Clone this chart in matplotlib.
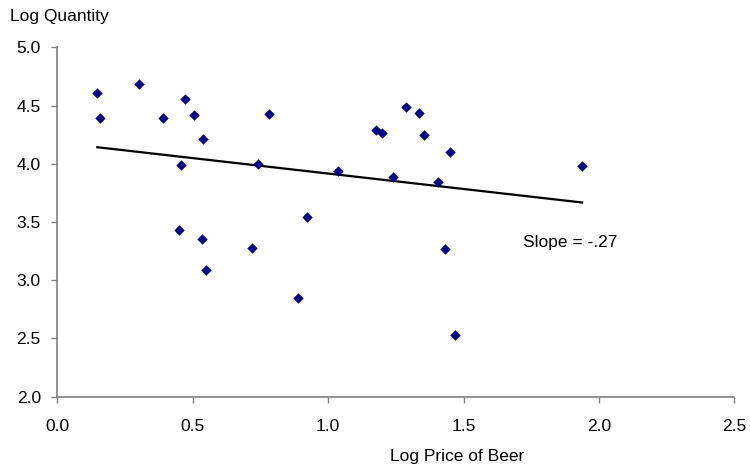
import matplotlib
matplotlib.use("Agg")
import matplotlib.pyplot as plt
import numpy as np

plt.rcParams["font.family"] = ["Liberation Sans", "DejaVu Sans"]

# scatter points
log_price = [0.147, 0.157, 0.301, 0.391, 0.472, 0.503, 0.537, 0.456, 0.739, 0.781,
             1.035, 0.922, 1.176, 1.197, 1.287, 1.334, 1.352, 1.451, 1.240, 1.406,
             1.938, 0.448, 0.534, 0.550, 0.717, 0.888, 1.433, 1.468]
log_qty = [4.608, 4.391, 4.688, 4.391, 4.559, 4.419, 4.211, 3.993, 4.002, 4.431,
           3.937, 3.545, 4.291, 4.262, 4.491, 4.439, 4.250, 4.102, 3.885, 3.845,
           3.985, 3.433, 3.353, 3.088, 3.276, 2.847, 3.264, 2.530]

# fitted line (intercept, slope) as drawn in the reference
fit_intercept = 4.181
fit_slope = -0.265
slope_label = "Slope = -.27"

x_ticks = [0.0, 0.5, 1.0, 1.5, 2.0, 2.5]
y_ticks = [2.0, 2.5, 3.0, 3.5, 4.0, 4.5, 5.0]

FS = 12.5

fig = plt.figure(figsize=(7.5, 4.7), dpi=100)
ax = fig.add_axes([57.5 / 750, 1 - 396.7 / 470, (734.3 - 57.5) / 750, (396.7 - 47.3) / 470])

ax.scatter(log_price, log_qty, marker="D", s=28, color="#000080", zorder=3, linewidths=0)

xs = np.array([min(log_price), max(log_price)])
ax.plot(xs, fit_intercept + fit_slope * xs, color="black", lw=1.6, zorder=2)

ax.text(1.719, 3.322, slope_label, fontsize=FS, ha="left", va="center")

ax.set_xlim(0, 2.5)
ax.set_ylim(2.0, 5.0)
ax.set_xticks(x_ticks)
ax.set_yticks(y_ticks)
ax.set_xticklabels([f"{v:.1f}" for v in x_ticks])
ax.set_yticklabels([f"{v:.1f}" for v in y_ticks])

for side in ["top", "right"]:
    ax.spines[side].set_visible(False)
for side in ["left", "bottom"]:
    ax.spines[side].set_color("#808080")
    ax.spines[side].set_linewidth(1.2)

ax.tick_params(axis="both", direction="out", length=4, width=1, color="#808080",
               labelsize=FS, labelcolor="black")
ax.tick_params(axis="x", pad=12)
ax.tick_params(axis="y", pad=8)

fig.text(10 / 750, 1 - 17 / 470, "Log Quantity", fontsize=FS, ha="left", va="center")
fig.text(457 / 750, 1 - 456 / 470, "Log Price of Beer", fontsize=FS, ha="center", va="center")

fig.savefig("out.png", dpi=100)
